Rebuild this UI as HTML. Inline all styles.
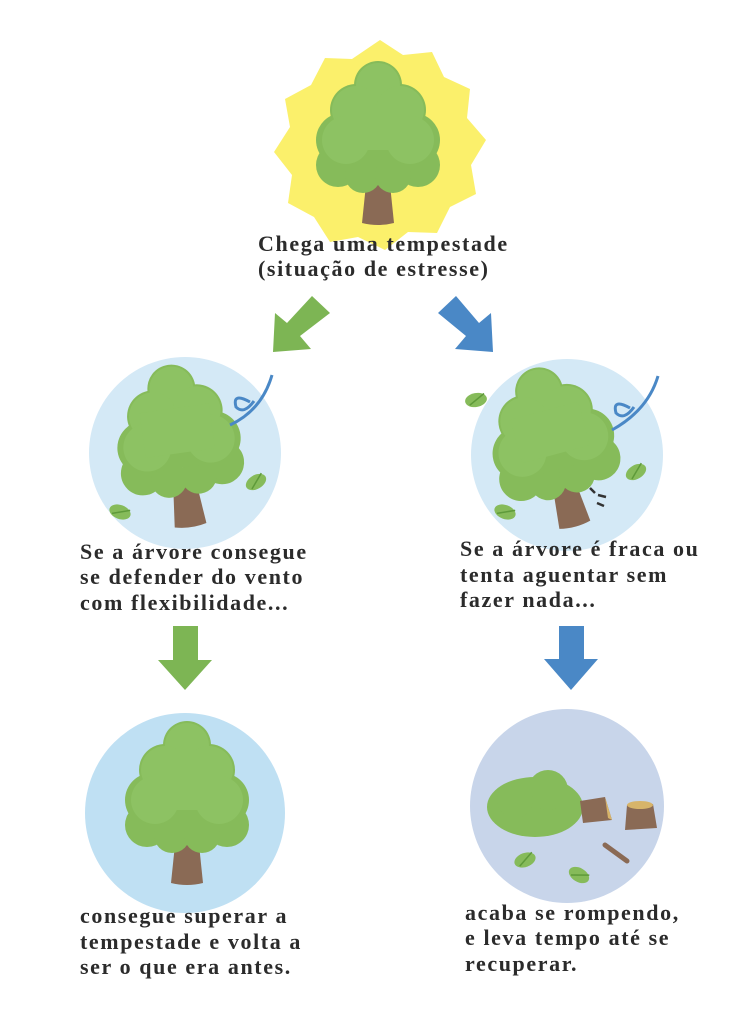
<!DOCTYPE html>
<html><head><meta charset="utf-8"><style>
html,body{margin:0;padding:0;background:#fff;}
svg{display:block}
text{font-family:"Liberation Serif",serif;font-weight:bold;font-size:22px;fill:#2b2b2b;letter-spacing:1.6px}
</style></head><body>
<svg width="756" height="1024" viewBox="0 0 756 1024" xmlns="http://www.w3.org/2000/svg">
<defs>
<g id="tree">
  <path d="M-10,20 L10,20 L16,78 Q0,82 -16,78 Z" fill="#8a6a55"/>
  <g fill="#86bb5a">
    <circle cx="0" cy="-60" r="24"/>
    <circle cx="-22" cy="-35" r="26"/><circle cx="22" cy="-35" r="26"/>
    <circle cx="-35" cy="-5" r="27"/><circle cx="35" cy="-5" r="27"/>
    <circle cx="-40" cy="20" r="22"/><circle cx="40" cy="20" r="22"/>
    <circle cx="-15" cy="30" r="18"/><circle cx="15" cy="30" r="18"/>
    <rect x="-40" y="-40" width="80" height="60"/>
  </g>
  <g fill="#8dc263">
    <circle cx="0" cy="-60" r="22"/>
    <circle cx="-22" cy="-35" r="24"/><circle cx="22" cy="-35" r="24"/>
    <circle cx="-32" cy="-5" r="24"/><circle cx="32" cy="-5" r="24"/>
    <rect x="-35" y="-40" width="70" height="45"/>
  </g>
</g>
<g id="leaf"><ellipse cx="0" cy="0" rx="11" ry="7" fill="#86bb5a"/><line x1="-7" y1="4" x2="9" y2="-5" stroke="#5e9a3a" stroke-width="1.5"/></g>
</defs>

<polygon fill="#fbf06b" points="380,40 403,55 432,52 444,77 470,89 467,118 486,140 471,165 476,194 450,207 437,233 408,232 385,250 358,237 330,242 314,217 288,203 292,175 274,152 290,127 285,99 311,85 325,58 352,59"/>
<use href="#tree" x="378" y="145"/>
<text x="258" y="251">Chega uma tempestade</text>
<text x="258" y="276">(situação de estresse)</text>

<polygon fill="#7db554" points="312,296 330,313 300,336 311,349 273,352 275,313 287,323"/>
<polygon fill="#4a88c6" points="456,296 438,313 466,336 455,349 493,352 491,313 479,323"/>

<circle cx="185" cy="453" r="96" fill="#d4e9f6"/>
<g transform="rotate(-8 180 450)"><use href="#tree" x="180" y="448"/></g>
<use href="#leaf" x="256" y="482" transform="rotate(-30 256 482)"/>
<use href="#leaf" x="120" y="512" transform="rotate(20 120 512)"/>
<path d="M230,425 Q262,410 272,375 M250,402 q-18,-10 -14,5 q8,8 18,-6" fill="none" stroke="#4a88c6" stroke-width="3"/>
<text x="80" y="559">Se a árvore consegue</text>
<text x="80" y="584">se defender do vento</text>
<text x="80" y="610">com flexibilidade...</text>

<circle cx="567" cy="455" r="96" fill="#d4e9f6"/>
<g transform="rotate(-15 560 450)"><use href="#tree" x="555" y="448"/></g>
<use href="#leaf" x="476" y="400" transform="rotate(-10 476 400)"/>
<use href="#leaf" x="636" y="472" transform="rotate(-30 636 472)"/>
<use href="#leaf" x="505" y="512" transform="rotate(20 505 512)"/>
<path d="M612,430 Q648,410 658,376 M630,408 q-18,-10 -14,5 q8,8 18,-6" fill="none" stroke="#4a88c6" stroke-width="3"/>
<path d="M590,488 l5,5 M598,495 l8,2 M597,503 l7,3" stroke="#333" stroke-width="2.5"/>
<text x="460" y="556">Se a árvore é fraca ou</text>
<text x="460" y="582">tenta aguentar sem</text>
<text x="460" y="607">fazer nada...</text>

<polygon fill="#7db554" points="173,626 198,626 198,660 212,660 185,690 158,660 173,660"/>
<polygon fill="#4a88c6" points="559,626 584,626 584,659 598,659 571,690 544,659 559,659"/>

<circle cx="185" cy="813" r="100" fill="#bfe0f3"/>
<use href="#tree" x="187" y="805"/>
<text x="80" y="923">consegue superar a</text>
<text x="80" y="949">tempestade e volta a</text>
<text x="80" y="974">ser o que era antes.</text>

<circle cx="567" cy="806" r="97" fill="#c8d5ea"/>
<g fill="#86bb5a"><ellipse cx="535" cy="807" rx="48" ry="30"/><circle cx="548" cy="790" r="20"/><circle cx="515" cy="800" r="18"/></g>
<polygon fill="#8a6a55" points="580,801 605,797 612,820 583,823"/>
<polygon fill="#d7b46a" points="605,797 612,820 608,818"/>
<polygon fill="#8a6a55" points="627,805 653,804 657,828 625,830"/>
<ellipse cx="640" cy="805" rx="13" ry="4" fill="#d7b46a"/>
<line x1="605" y1="845" x2="627" y2="861" stroke="#8a6a55" stroke-width="5" stroke-linecap="round"/>
<use href="#leaf" x="525" y="860" transform="rotate(-20 525 860)"/>
<use href="#leaf" x="579" y="875" transform="rotate(30 579 875)"/>
<text x="465" y="920">acaba se rompendo,</text>
<text x="465" y="945">e leva tempo até se</text>
<text x="465" y="971">recuperar.</text>
</svg>
</body></html>
